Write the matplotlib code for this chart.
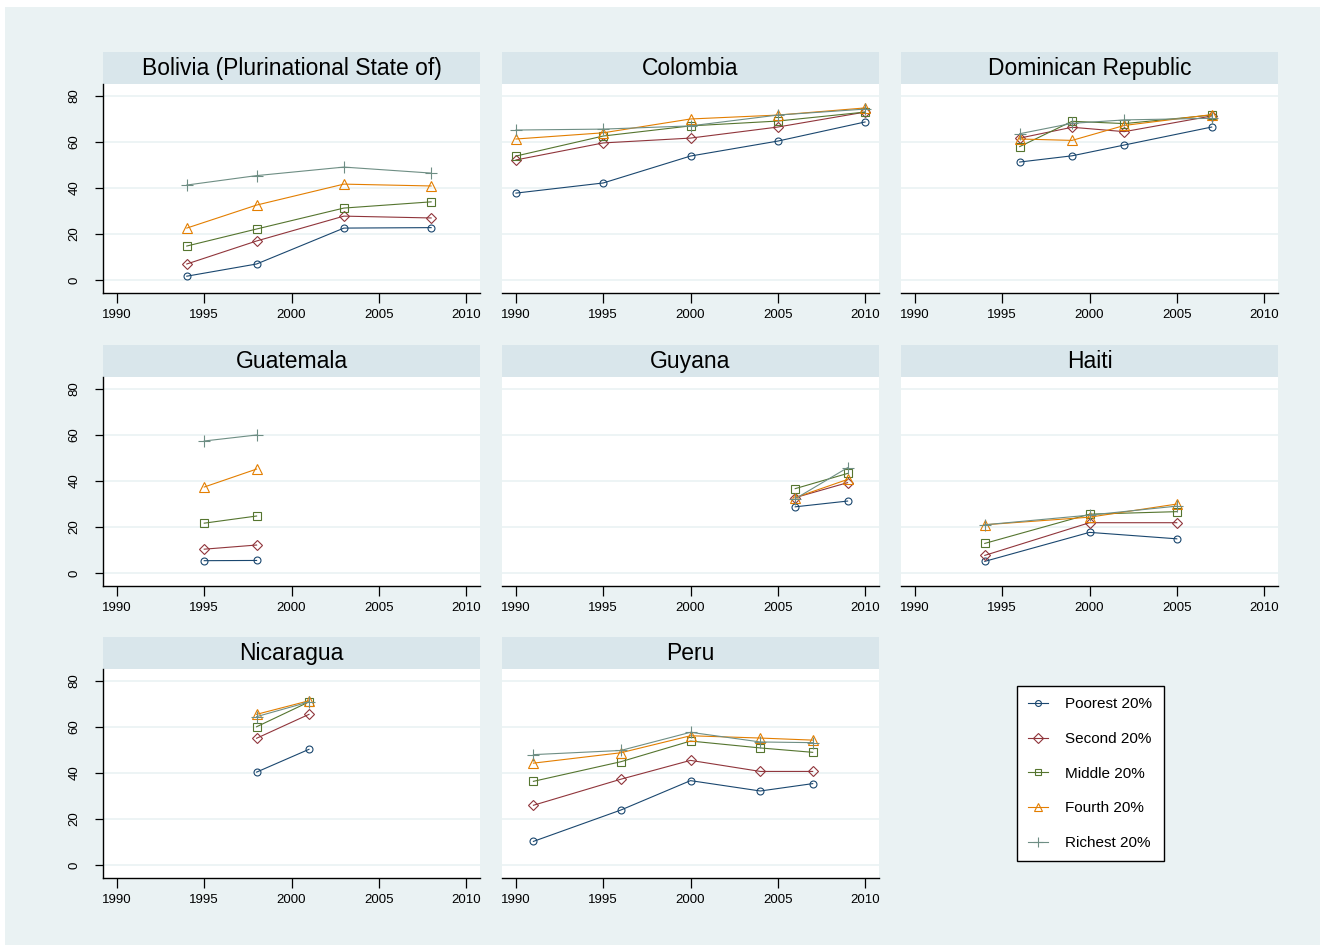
import matplotlib.pyplot as plt
from matplotlib.lines import Line2D
from matplotlib.patches import Rectangle

plt.rcParams['font.family'] = ['Liberation Sans', 'DejaVu Sans']

countries = ["Bolivia (Plurinational State of)", "Colombia", "Dominican Republic",
             "Guatemala", "Guyana", "Haiti", "Nicaragua", "Peru"]
years = [[1994, 1998, 2003, 2008],
         [1990, 1995, 2000, 2005, 2010],
         [1996, 1999, 2002, 2007],
         [1995, 1998],
         [2006, 2009],
         [1994, 2000, 2005],
         [1998, 2001],
         [1991, 1996, 2000, 2004, 2007]]
poorest = [[1.7, 7.0, 22.6, 22.8],
           [37.8, 42.2, 53.9, 60.4, 68.7],
           [51.3, 54.0, 58.7, 66.5],
           [5.4, 5.5],
           [28.8, 31.3],
           [5.1, 17.7, 14.9],
           [40.4, 50.3],
           [10.3, 23.9, 36.7, 32.2, 35.4]]
second = [[7.0, 17.0, 27.8, 27.0],
          [52.2, 59.6, 61.7, 66.5, 73.0],
          [61.7, 66.4, 64.5, 71.3],
          [10.4, 12.2],
          [32.8, 39.3],
          [7.7, 21.9, 21.9],
          [55.1, 65.5],
          [26.0, 37.3, 45.5, 40.7, 40.7]]
middle = [[14.8, 22.2, 31.3, 34.0],
          [53.9, 62.6, 67.0, 69.1, 73.0],
          [58.0, 69.0, 68.0, 71.7],
          [21.7, 24.8],
          [36.7, 43.3],
          [12.9, 25.6, 26.7],
          [60.1, 70.9],
          [36.4, 44.9, 53.9, 50.9, 49.0]]
fourth = [[22.6, 32.6, 41.7, 40.9],
          [61.3, 64.0, 70.0, 71.7, 74.8],
          [61.3, 60.7, 67.2, 71.9],
          [37.4, 45.2],
          [32.8, 40.7],
          [21.0, 24.3, 30.0],
          [65.5, 71.4],
          [44.3, 48.8, 56.2, 55.2, 54.3]]
richest = [[41.3, 45.4, 49.1, 46.5],
           [65.2, 65.6, 67.0, 71.7, 74.3],
           [63.6, 68.1, 69.6, 70.3],
           [57.4, 60.0],
           [32.3, 45.8],
           [21.0, 25.2, 29.1],
           [64.5, 70.9],
           [48.0, 49.8, 57.7, 53.5, 53.2]]

series_labels = ["Poorest 20%", "Second 20%", "Middle 20%", "Fourth 20%", "Richest 20%"]
series_data = [poorest, second, middle, fourth, richest]
colors = ["#1A476F", "#90353B", "#55752F", "#E37E00", "#6E8E84"]
markers = ["o", "D", "s", "^", "+"]
msizes = [5, 5.5, 5.5, 6.5, 9]

W, H = 1323, 952
fig = plt.figure(figsize=(W / 100, H / 100), dpi=100)
fig.patch.set_facecolor("white")
fig.patches.append(Rectangle((5 / W, 1 - 945 / H), 1315 / W, 938 / H,
                             transform=fig.transFigure, facecolor="#EAF2F3",
                             edgecolor="none", zorder=-10))

col_x = [103, 502, 901]
pw = 377
row_top = [84, 377, 669]
ph = 209
strip_h = 32


def px_axes(x0, y0, w, h):
    return fig.add_axes([x0 / W, 1 - (y0 + h) / H, w / W, h / H])


for i, name in enumerate(countries):
    r, c = divmod(i, 3)
    x0, y0 = col_x[c], row_top[r]

    strip = px_axes(x0, y0 - strip_h, pw, strip_h)
    strip.set_facecolor("#D9E6EB")
    strip.set_xticks([])
    strip.set_yticks([])
    for s in strip.spines.values():
        s.set_visible(False)
    strip.text(0.5, 0.48, name, ha="center", va="center", fontsize=16.5,
               transform=strip.transAxes)

    ax = px_axes(x0, y0, pw, ph)
    ax.set_facecolor("white")
    ax.set_xlim(1989.2, 2010.8)
    ax.set_ylim(-5.6, 85.2)
    ax.set_yticks([0, 20, 40, 60, 80])
    ax.set_xticks([1990, 1995, 2000, 2005, 2010])
    ax.grid(axis="y", color="#EAF2F3", linewidth=1.2)
    ax.set_axisbelow(True)
    ax.spines["top"].set_visible(False)
    ax.spines["right"].set_visible(False)
    ax.spines["bottom"].set_linewidth(1.0)
    ax.tick_params(axis="x", length=7, width=0.9, labelsize=9.5, pad=4.5)
    if c == 0:
        ax.spines["left"].set_linewidth(1.0)
        ax.tick_params(axis="y", length=6, width=0.9, labelsize=9.5, pad=10)
        for lab in ax.get_yticklabels():
            lab.set_rotation(90)
            lab.set_va("center")
    else:
        ax.spines["left"].set_visible(False)
        ax.tick_params(axis="y", left=False, labelleft=False)

    for data, col, mk, ms in zip(series_data, colors, markers, msizes):
        ax.plot(years[i], data[i], color=col, linewidth=0.8, marker=mk,
                markersize=ms, markerfacecolor="none", markeredgecolor=col,
                markeredgewidth=0.8)

handles = [Line2D([0], [0], color=col, linewidth=0.8, marker=mk, markersize=ms * 0.85,
                  markerfacecolor="none", markeredgecolor=col, markeredgewidth=0.8)
           for col, mk, ms in zip(colors, markers, msizes)]
leg = fig.legend(handles, series_labels, loc="upper left",
                 bbox_to_anchor=(1017 / W, 1 - 686 / H), frameon=True, fontsize=11,
                 handlelength=1.3, handletextpad=1.1, labelspacing=1.35,
                 borderpad=0.75, borderaxespad=0, fancybox=False, framealpha=1)
leg.get_frame().set_edgecolor("black")
leg.get_frame().set_linewidth(1.0)

fig.savefig("out.png", dpi=100, facecolor=fig.get_facecolor())
